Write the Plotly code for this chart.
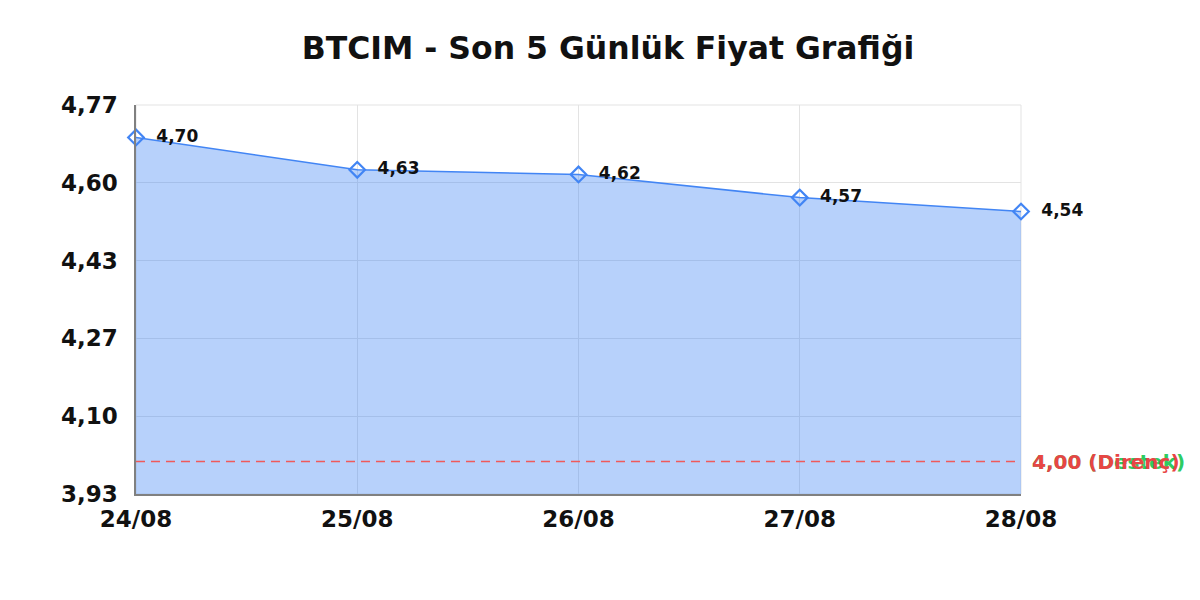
import plotly.graph_objects as go

# Data
dates = ['24/08', '25/08', '26/08', '27/08', '28/08']
prices = [4.70, 4.63, 4.62, 4.57, 4.54]
price_labels = ['4,70', '4,63', '4,62', '4,57', '4,54']
support = 4.00
resistance = 4.00
y_ticks = [3.93, 4.098, 4.266, 4.434, 4.602, 4.77]
y_tick_labels = ['3,93', '4,10', '4,27', '4,43', '4,60', '4,77']

x_idx = list(range(len(dates)))
font = 'DejaVu Sans'

fig = go.Figure()

# Price area + line
fig.add_trace(go.Scatter(
    x=x_idx, y=prices,
    mode='lines+markers+text',
    text=price_labels,
    texttemplate='  %{text}',
    textposition='middle right',
    textfont=dict(family=font, size=17, color='#111111', weight='bold'),
    fill='tozeroy',
    fillcolor='rgba(66,133,244,0.38)',
    line=dict(color='#4285f4', width=1.5),
    marker=dict(symbol='diamond-open', size=12, color='#4285f4', line=dict(width=2.2)),
    cliponaxis=False,
    showlegend=False,
))

# Support and resistance sit on the same level; the red dashed line covers the green one
fig.add_trace(go.Scatter(
    x=[x_idx[0], x_idx[-1]], y=[resistance, resistance], mode='lines',
    line=dict(color='#f05a5a', width=1.5, dash='9px,6px'),
    showlegend=False, hoverinfo='skip',
))

fig.add_annotation(x=1, xref='paper', xanchor='left', xshift=9, y=support,
                   text='4,00 (Destek)', showarrow=False,
                   font=dict(family=font, size=20, color='#2ecc62', weight='bold'))
fig.add_annotation(x=1, xref='paper', xanchor='left', xshift=9, y=resistance,
                   text='4,00 (Direnç)', showarrow=False,
                   font=dict(family=font, size=20, color='#e84545', weight='bold'))

# light frame on top/right like the reference
fig.add_shape(type='rect', xref='paper', yref='paper', x0=0, x1=1, y0=0, y1=1,
              line=dict(color='#e3e3e3', width=1), layer='below')

fig.update_layout(
    width=1200, height=600,
    template='plotly_white',
    paper_bgcolor='white', plot_bgcolor='white',
    margin=dict(l=128, r=187, t=97, b=114),
    title=dict(text='BTCIM - Son 5 Günlük Fiyat Grafiği', x=0.5, xanchor='center',
               y=0.933, yanchor='middle',
               font=dict(family=font, size=31.5, color='#111111', weight='bold')),
)

fig.update_xaxes(
    range=[0, 4], tickvals=x_idx, ticktext=dates,
    tickfont=dict(family=font, size=23, color='#111111', weight='bold'),
    ticklabelstandoff=4,
    showgrid=True, gridcolor='#e3e3e3', gridwidth=1,
    showline=True, linecolor='#808080', linewidth=1.5,
    mirror=False, zeroline=False, ticks='', ticklen=0,
)
fig.update_yaxes(
    range=[3.93, 4.77], tickvals=y_ticks, ticktext=y_tick_labels,
    tickfont=dict(family=font, size=23, color='#111111', weight='bold'),
    ticklabelstandoff=12,
    showgrid=True, gridcolor='#e3e3e3', gridwidth=1,
    showline=True, linecolor='#808080', linewidth=1.5,
    zeroline=False, ticks='', ticklen=0,
)

fig.write_html('out.html')
